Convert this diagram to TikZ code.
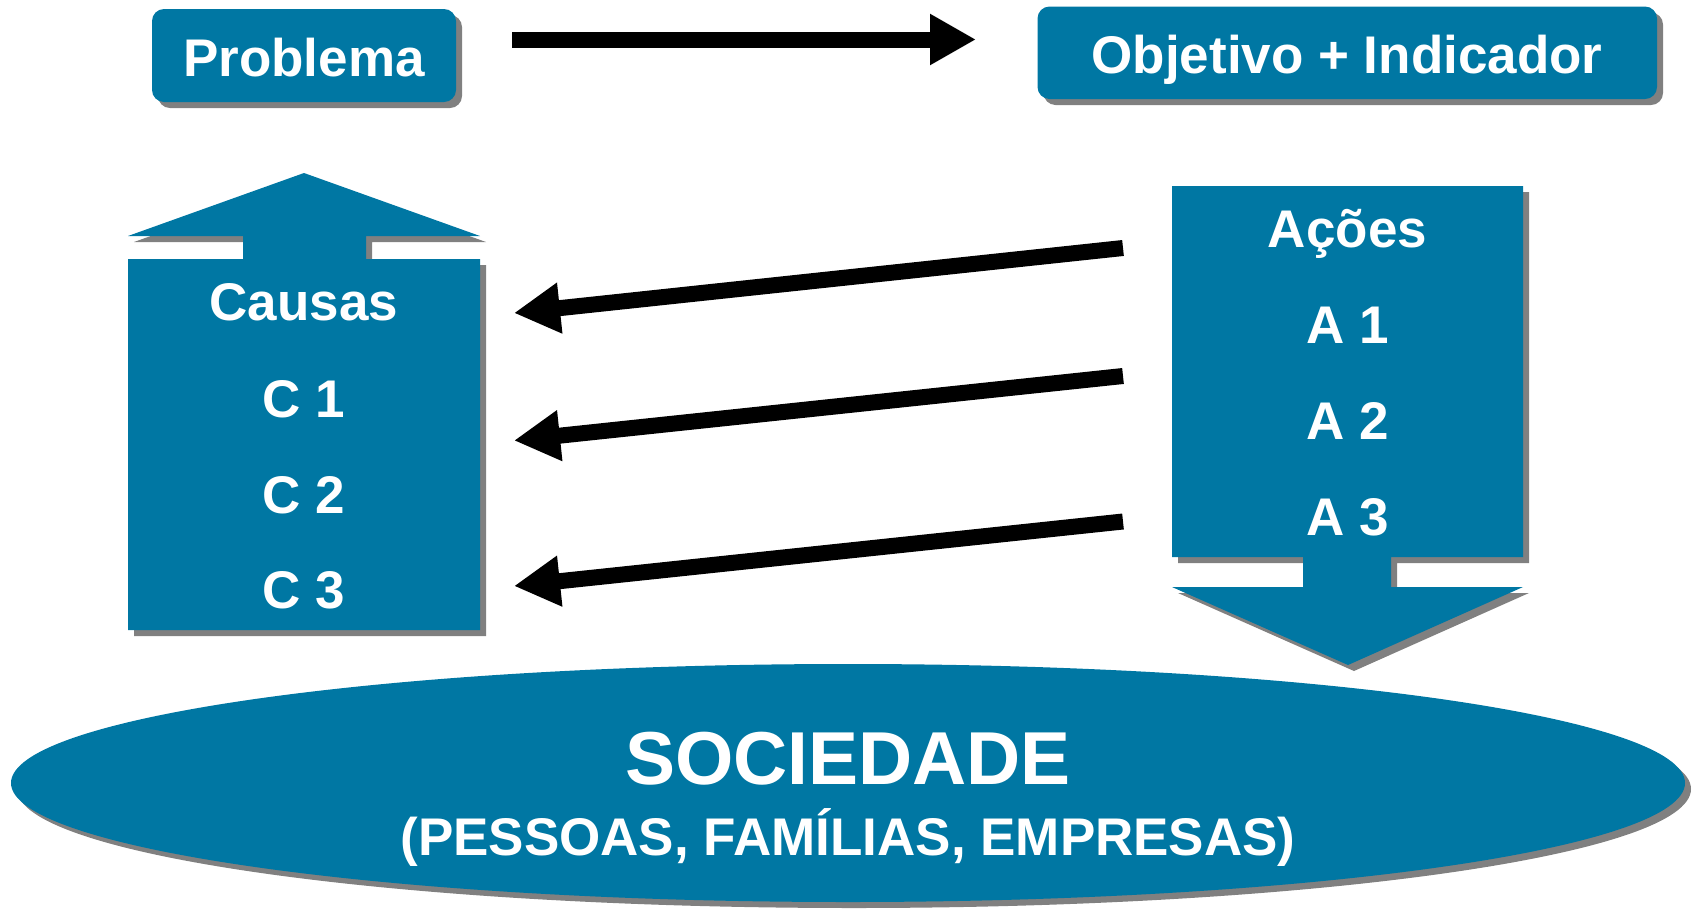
\documentclass[tikz,border=0pt]{standalone}
\usepackage{fontspec}
\setmainfont{Liberation Sans}
\usetikzlibrary{arrows.meta,shadows,shapes.geometric}
\definecolor{tblue}{HTML}{0077A3}
\definecolor{shgray}{HTML}{808080}
\begin{document}
\begin{tikzpicture}[x=0.5pt,y=-0.5pt,
  shad/.style={drop shadow={shadow xshift=3pt,shadow yshift=-3pt,fill=shgray,opacity=1}},
  rbox/.style={fill=tblue, rounded corners=6pt, shad, inner sep=0pt},
  lbl/.style={text=white, font=\bfseries\fontsize{26.5pt}{30pt}\selectfont, inner sep=0pt, anchor=base},
  biglbl/.style={text=white, font=\bfseries\fontsize{37.5pt}{42pt}\selectfont, inner sep=0pt, anchor=base},
  bigarrow/.style={line width=8pt, -{Triangle[length=23pt,width=24pt]}},
]
\useasboundingbox (0,0) rectangle (1693,911);

% top boxes
\node[rbox, minimum width=152pt, minimum height=46.5pt] (prob) at (304,55.5) {};
\node[lbl] (probt) at (304,76) {Problema};
\node[rbox, minimum width=309.75pt, minimum height=46.25pt] (obj) at (1347.25,52.75) {};
\node[lbl] (objt) at (1347,73.5) {Objetivo + Indicador};

% top arrow
\coordinate (ta1) at (512,39.5);
\coordinate (ta2) at (976,39.5);
\draw[bigarrow] (ta1) -- (ta2);

% Causas block with up arrow
\fill[tblue, shad] (128,259) -- (243,259) -- (243,236) -- (128,236) -- (304,173)
  -- (480,236) -- (366,236) -- (366,259) -- (480,259) -- (480,630) -- (128,630) -- cycle;
\node[lbl] (causas) at (304,320) {Causas};
\node[lbl] (c1) at (304,417) {C 1};
\node[lbl] (c2) at (304,513) {C 2};
\node[lbl] (c3) at (304,608) {C 3};

% Acoes block with down arrow
\fill[tblue, shad] (1172,186) -- (1523,186) -- (1523,557) -- (1391,557) -- (1391,587)
  -- (1523,587) -- (1348,665) -- (1172,587) -- (1303,587) -- (1303,557) -- (1172,557) -- cycle;
\node[lbl] (acoes) at (1347.5,247) {Ações};
\node[lbl] (a1) at (1347.5,343) {A 1};
\node[lbl] (a2) at (1347.5,439) {A 2};
\node[lbl] (a3) at (1347.5,535) {A 3};

% arrows from actions to causes
\coordinate (r1s) at (1123,248);   \coordinate (r1e) at (514,313);
\coordinate (r2s) at (1123,376);   \coordinate (r2e) at (514,440.5);
\coordinate (r3s) at (1123,521.5); \coordinate (r3e) at (514,586);
\draw[bigarrow] (r1s) -- (r1e);
\draw[bigarrow] (r2s) -- (r2e);
\draw[bigarrow] (r3s) -- (r3e);

% society ellipse
\node[ellipse, fill=tblue, shad, minimum width=837pt, minimum height=119pt, inner sep=0pt] (soc) at (848,783) {};
\node[biglbl] (soct) at (848,784) {SOCIEDADE};
\node[lbl] (socs) at (848,855) {(PESSOAS, FAMÍLIAS, EMPRESAS)};
\end{tikzpicture}
\end{document}
